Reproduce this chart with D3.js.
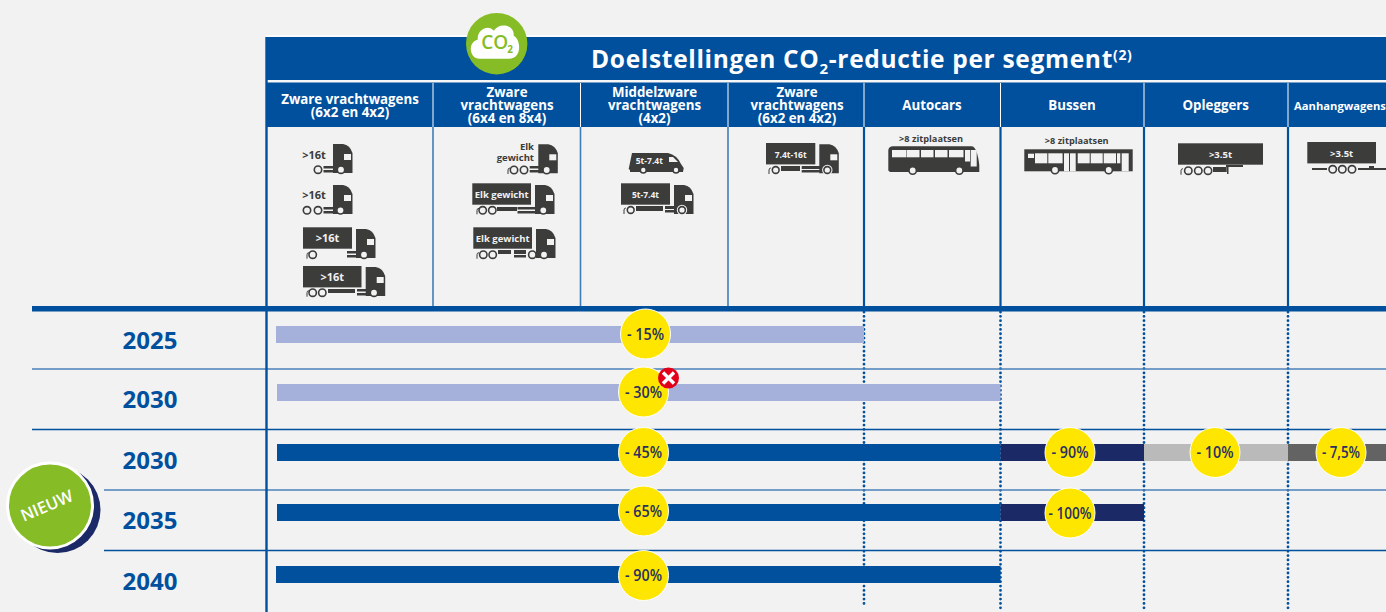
<!DOCTYPE html>
<html>
<head>
<meta charset="utf-8">
<script src="https://cdn.jsdelivr.net/npm/d3@7"></script>
<style>
    html, body { margin: 0; padding: 0; background: #f2f2f2; overflow: hidden; }
    text { font-family: "Open Sans", sans-serif; }
</style>
</head>
<body>
<svg id="chart" width="1386" height="612"></svg>
<script>
// ---- data
const segments = [
    ['Zware vrachtwagens', '(6x2 en 4x2)'],
    ['Zware', 'vrachtwagens', '(6x4 en 8x4)'],
    ['Middelzware', 'vrachtwagens', '(4x2)'],
    ['Zware', 'vrachtwagens', '(6x2 en 4x2)'],
    ['Autocars'],
    ['Bussen'],
    ['Opleggers'],
    ['Aanhangwagens']
]
const years = ['2025', '2030', '2030', '2035', '2040']

// one entry per bar
const span_row = [0, 1, 2, 2, 2, 2, 3, 3, 4]
const span_from = [0, 0, 0, 5, 6, 7, 0, 5, 0]
const span_to = [4, 5, 5, 6, 7, 8, 5, 6, 5]
const span_reduction = [15, 30, 45, 90, 10, 7.5, 65, 100, 90]
const span_tone = ['old', 'old', 'new', 'bus', 'semi', 'trailer', 'new', 'bus', 'new']

// ---- layout
const blue = '#00509e'
const dark = '#3c3c3b'
const bg = '#f2f2f2'
const tones = { old: '#a5b1db', new: blue, bus: '#1b2a67', semi: '#bababa', trailer: '#636363' }

const column_edges = [277, 433, 580.5, 728, 864, 1000.5, 1144, 1288, 1386]
const row_tops = [326, 384, 444, 504, 566]
const row_baselines = [349, 408, 469, 529, 590]
const row_start_nudge = [-1, 0, 0, 0, -1]
const bubble_x = [645.5, 643.5, 643.5, 1070, 1215, 1341, 643.5, 1070, 643.5]
const bubble_y = [334, 392, 452.5, 452.5, 452.5, 452.5, 511, 513, 575.5]

const edge_x = d3.scaleOrdinal(d3.range(column_edges.length), column_edges)
const row_y = d3.scaleOrdinal(d3.range(years.length), row_tops)
const row_base = d3.scaleOrdinal(d3.range(years.length), row_baselines)

const svg = d3.select('#chart')
const bar_h = 17

const fmt = (v) => '- ' + String(v).replace('.', ',') + '%'

const rect = (g, x, y, w, h, fill) => g.append('rect')
    .attr('x', x).attr('y', y).attr('width', w).attr('height', h).attr('fill', fill)

const line = (x1, y1, x2, y2, col, w) => svg.append('line')
    .attr('x1', x1).attr('y1', y1).attr('x2', x2).attr('y2', y2)
    .attr('stroke', col).attr('stroke-width', w)

const label = (g, x, y, txt, size, col, anchor = 'middle', weight = 700) => g.append('text')
    .attr('x', x).attr('y', y).attr('text-anchor', anchor)
    .attr('font-size', size).attr('font-weight', weight).attr('fill', col).text(txt)

// ---- header
line(266, 36, 1386, 36, '#fff', 1.5)
rect(svg, 266, 37, 1120, 43, blue)
rect(svg, 268, 80, 1118, 2.5, '#f7f7f7')
rect(svg, 266, 82.5, 1120, 44.5, blue)

const title = svg.append('text')
    .attr('x', 591).attr('y', 68)
    .attr('font-size', 24.5).attr('font-weight', 700).attr('fill', '#fff')
    .attr('letter-spacing', 0.68)
title.append('tspan').text('Doelstellingen CO')
title.append('tspan').attr('font-size', 15).attr('dy', 6).text('2')
title.append('tspan').attr('dy', -6).text('-reductie per segment')
title.append('tspan').attr('font-size', 14).attr('dy', -8).text('(2)')

const header_centers = [350, 507, 654.5, 797, 932, 1072, 1215.7, 1340]
segments.forEach((lines, i) => {
    const small = lines[0] == 'Aanhangwagens'
    const first = 110 - (lines.length - 1) * 6.5
    lines.forEach((t, k) => {
        label(svg, header_centers[i], first + k * 13, t, small ? 11.2 : 13.3, '#fff')
    })
})

// column rules, the thin ones stop at the heavy line, the others go on dotted
;[433, 580.5, 728].forEach(x => {
    line(x, 83, x, 127, '#fff', 1)
    line(x, 127, x, 306, '#3f7db8', 1.6)
})
;[864, 1000.5, 1144, 1288].forEach((x, i) => {
    line(x, 83, x, 127, '#fff', 1)
    line(x, 127, x, 306, blue, 2.2)
    line(x, 312, x, i == 0 ? 604 : 612, blue, 2.8)
        .attr('stroke-dasharray', '0 4.35').attr('stroke-linecap', 'round')
})

// ---- row rules
line(32, 369, 1386, 369, '#4a80b9', 1.6)
line(32, 429.5, 1386, 429.5, blue, 1.3)
line(104, 490, 1386, 490, '#4a80b9', 1.6)
line(104, 550.5, 1386, 550.5, blue, 1.3)
line(266.5, 37, 266.5, 612, blue, 2.4)
rect(svg, 32, 306, 1354, 5.5, blue)

// ---- years
svg.selectAll('text.year')
    .data(years)
    .enter()
    .append('text')
    .attr('class', 'year')
    .attr('x', 150)
    .attr('y', (d, i) => row_base(i))
    .attr('text-anchor', 'middle')
    .attr('font-size', 24)
    .attr('font-weight', 700)
    .attr('fill', blue)
    .text(d => d)

// ---- bars and bubbles
const bar_x = (d, i) => edge_x(span_from[i]) + (span_from[i] == 0 ? row_start_nudge[d] : 0)

svg.selectAll('rect.bar')
    .data(span_row)
    .enter()
    .append('rect')
    .attr('class', 'bar')
    .attr('x', bar_x)
    .attr('y', d => row_y(d))
    .attr('width', (d, i) => edge_x(span_to[i]) - bar_x(d, i))
    .attr('height', bar_h)
    .attr('fill', (d, i) => tones[span_tone[i]])

svg.selectAll('circle.bubble')
    .data(span_reduction)
    .enter()
    .append('circle')
    .attr('class', 'bubble')
    .attr('cx', (d, i) => bubble_x[i])
    .attr('cy', (d, i) => bubble_y[i])
    .attr('r', 25)
    .attr('fill', '#ffe600')
    .attr('stroke', '#fff')
    .attr('stroke-width', 1)

svg.selectAll('text.pct')
    .data(span_reduction)
    .enter()
    .append('text')
    .attr('class', 'pct')
    .attr('x', (d, i) => bubble_x[i])
    .attr('y', (d, i) => bubble_y[i] + 5.5)
    .attr('text-anchor', 'middle')
    .attr('font-size', 15.5)
    .attr('font-weight', 600)
    .attr('fill', '#2a2f60')
    .attr('textLength', d => d == 100 ? 43 : d == 7.5 ? 38 : 37)
    .attr('lengthAdjust', 'spacingAndGlyphs')
    .text(fmt)

// red cross on the 2030 target
const cross = svg.append('g').attr('transform', 'translate(668.5, 378)')
cross.append('circle').attr('r', 10.5).attr('fill', '#e2001a')
cross.append('path').attr('d', 'M-5.5,-5.5L5.5,5.5M5.5,-5.5L-5.5,5.5')
    .attr('stroke', '#fff').attr('stroke-width', 3.4)

// ---- badges
const nieuw = svg.append('g')
nieuw.append('circle').attr('cx', 57.5).attr('cy', 510).attr('r', 43).attr('fill', '#1b2a67')
nieuw.append('circle').attr('cx', 50).attr('cy', 505.5).attr('r', 42.5).attr('fill', '#86bc25').attr('stroke', '#fff').attr('stroke-width', 3)
nieuw.append('text')
    .attr('transform', 'translate(49, 511) rotate(-23)')
    .attr('text-anchor', 'middle').attr('font-size', 16.5).attr('font-weight', 600).attr('fill', '#fff')
    .text('NIEUW')

const co2 = svg.append('g').attr('transform', 'translate(496.7, 43.7)')
co2.append('circle').attr('r', 30.7).attr('fill', '#86bc25')
co2.append('path')
    .attr('d', 'M-17,15 C-28,15 -29,-2 -19,-4 C-20,-14 -8,-20 -3,-13 C3,-22 18,-19 17,-8 C24,-5 26,15 12,15 Z')
    .attr('fill', '#fff')
label(co2, -2, 5.5, 'CO', 19, '#86bc25', 'middle', 600)
label(co2, 13.5, 9.5, '2', 10, '#86bc25')

// ---- icons
const icons = svg.append('g')

const wheel = (x, y, r = 3.7) => icons.append('circle')
    .attr('cx', x).attr('cy', y).attr('r', r)
    .attr('fill', bg).attr('stroke', dark).attr('stroke-width', 1.6)

const cab = (x, y) => {
    const w = 19.5, h = 29
    const p = d3.path()
    p.moveTo(x, y + h)
    p.lineTo(x, y)
    p.lineTo(x + 10, y)
    p.quadraticCurveTo(x + 17, y + 1, x + w, y + 9)
    p.lineTo(x + w, y + h)
    p.closePath()
    icons.append('path').attr('d', p.toString()).attr('fill', dark)
    rect(icons, x + 11, y + 10, 7, 6, bg)
}

const flap = (x, y) => icons.append('path')
    .attr('d', `M${x},${y + 4}L${x},${y}Q${x},${y - 2} ${x + 2},${y - 2}`)
    .attr('fill', 'none').attr('stroke', dark).attr('stroke-width', 1)

const truck = (o) => {
    if (o.box) {
        rect(icons, o.box[0], o.box[1], o.box[2], 21.4, dark)
        label(icons, o.box[0] + o.box[2] / 2, o.box[1] + 14.5, o.text, o.size || 9.5, bg)
    }
    if (o.cab) cab(o.cab[0], o.cab[1])
    o.bars.forEach(b => rect(icons, b[0], b[1], b[2], b[3], dark))
    if (o.flap) flap(o.flap, o.wy)
    o.wheels.forEach(x => {
        if (o.big) icons.append('circle').attr('cx', x).attr('cy', o.wy).attr('r', 5.2).attr('fill', bg)
        wheel(x, o.wy, o.r)
    })
}

// first column
truck({ cab: [333, 144], bars: [[323.5, 166, 11, 2.5], [323.5, 170, 11, 2.5]], wheels: [318, 341], wy: 169.7 })
label(icons, 314, 159, '>16t', 11, dark)
truck({ cab: [333, 185], bars: [[323.5, 207, 11, 2.5], [323.5, 211, 11, 2.5]], wheels: [307, 318, 340.5], wy: 210.3 })
label(icons, 314, 199, '>16t', 11, dark)
truck({ box: [303, 227.3, 49], text: '>16t', size: 11, cab: [356, 229], bars: [[347, 251, 12, 2.5], [347, 255, 10, 2.5]], wheels: [312.7, 364], wy: 254.7, flap: 307 })
truck({ box: [303, 266, 58.5], text: '>16t', size: 11, cab: [365.7, 267], bars: [[328, 289, 27, 4], [357, 289, 12, 2.5], [357, 293, 10, 2.5]], wheels: [312.7, 322.3, 374], wy: 292.7, flap: 307 })

// second column
truck({ cab: [538.3, 144.3], bars: [[529.7, 166, 12, 2.5], [529.7, 170, 10, 2.5]], wheels: [514, 524, 546.7], wy: 170, flap: 508 })
label(icons, 534, 149.5, 'Elk', 9.5, dark, 'end')
label(icons, 534, 160.5, 'gewicht', 9.5, dark, 'end')
truck({ box: [472.3, 183.3, 58.7], text: 'Elk gewicht', cab: [535, 185], bars: [[497, 207, 20, 4], [517.5, 207, 20, 2.5], [517.5, 211, 18, 2.5]], wheels: [482.7, 492.3, 543.3], wy: 210.3, flap: 477 })
truck({ box: [473.3, 227.3, 58.7], text: 'Elk gewicht', cab: [536, 229], bars: [[498, 250, 13, 4], [514, 250, 12, 4], [514, 255, 12, 2.5]], wheels: [483.3, 492.7, 532.3, 544], wy: 254.7, flap: 477 })

// third column, the van first
const van = d3.path()
van.moveTo(630, 170)
van.lineTo(628.7, 169)
van.lineTo(632, 153)
van.lineTo(668, 153)
van.quadraticCurveTo(677, 155, 681, 164)
van.lineTo(683.7, 168)
van.lineTo(683, 172)
van.lineTo(630, 172)
van.closePath()
icons.append('path').attr('d', van.toString()).attr('fill', dark)
icons.append('path').attr('d', 'M669,157L673,157L678,162L669,162Z').attr('fill', bg)
label(icons, 649.3, 163.5, '5t-7.4t', 8.5, bg)
wheel(643.3, 170, 3)
wheel(676, 170, 3)

truck({ box: [621, 183.3, 49], text: '5t-7.4t', size: 8.5, cab: [674, 185], bars: [[636, 206, 27, 5], [665, 206, 12, 3], [665, 210, 12, 2.5]], wheels: [630.7, 682], wy: 210, big: true, r: 3.4, flap: 624 })
truck({ box: [766, 143, 49.3], text: '7.4t-16t', size: 8.5, cab: [819.3, 144.3], bars: [[781, 166, 19, 5], [801.7, 166, 20, 3], [801.7, 170, 20, 2.5]], wheels: [775.7, 827.3], wy: 170, big: true, r: 3.4, flap: 769 })

// coach
const coach = d3.path()
coach.moveTo(888.3, 150)
coach.quadraticCurveTo(889, 146.3, 893, 146.3)
coach.lineTo(972, 146.3)
coach.quadraticCurveTo(977, 147, 979.3, 165)
coach.lineTo(979.3, 172)
coach.lineTo(890, 172)
coach.lineTo(888.3, 170.5)
coach.closePath()
icons.append('path').attr('d', coach.toString()).attr('fill', dark)
;[[892, 14.5], [907, 12.5], [921, 12.5], [935, 12.5], [949, 14.5]].forEach(d => rect(icons, d[0], 150, d[1], 7.3, bg))
rect(icons, 965, 150, 5, 11.5, bg)
rect(icons, 970.7, 150, 6, 16.5, bg)
wheel(912.7, 170.5)
wheel(959.3, 170.5)
label(icons, 931, 142, '>8 zitplaatsen', 9.2, dark)

// city bus
rect(icons, 1024.3, 149.3, 108.4, 22, dark)
rect(icons, 1028, 153.7, 6, 4.3, bg)
rect(icons, 1035, 153.3, 12.3, 10, bg)
rect(icons, 1048.3, 153.3, 14.3, 10, bg)
rect(icons, 1064, 153.3, 5, 18, bg)
rect(icons, 1070, 153.3, 5.7, 18, bg)
rect(icons, 1077.7, 153.3, 12, 10, bg)
rect(icons, 1090.7, 153.3, 12, 10, bg)
rect(icons, 1103.7, 153.3, 12.3, 10, bg)
rect(icons, 1117, 153.3, 3.3, 10, bg)
rect(icons, 1121.7, 153.3, 7, 18, bg)
wheel(1055, 170)
wheel(1108.7, 170)
label(icons, 1076.7, 144, '>8 zitplaatsen', 9.2, dark)

// semi trailer
truck({ box: [1178, 143.3, 85], text: '>3.5t', size: 9.5, bars: [[1213, 167, 13.7, 5], [1226, 165, 17, 2], [1227, 165, 1.5, 9]], wheels: [1188.3, 1198.3, 1208], wy: 170.7, flap: 1181 })

// trailer
truck({ box: [1307.3, 142, 68.7], text: '>3.5t', size: 9.5, bars: [[1312, 168, 15, 2], [1358, 168, 28, 2], [1369, 166, 5, 4]], wheels: [1332.7, 1342.3, 1352], wy: 169.3 })
</script>
</body>
</html>
